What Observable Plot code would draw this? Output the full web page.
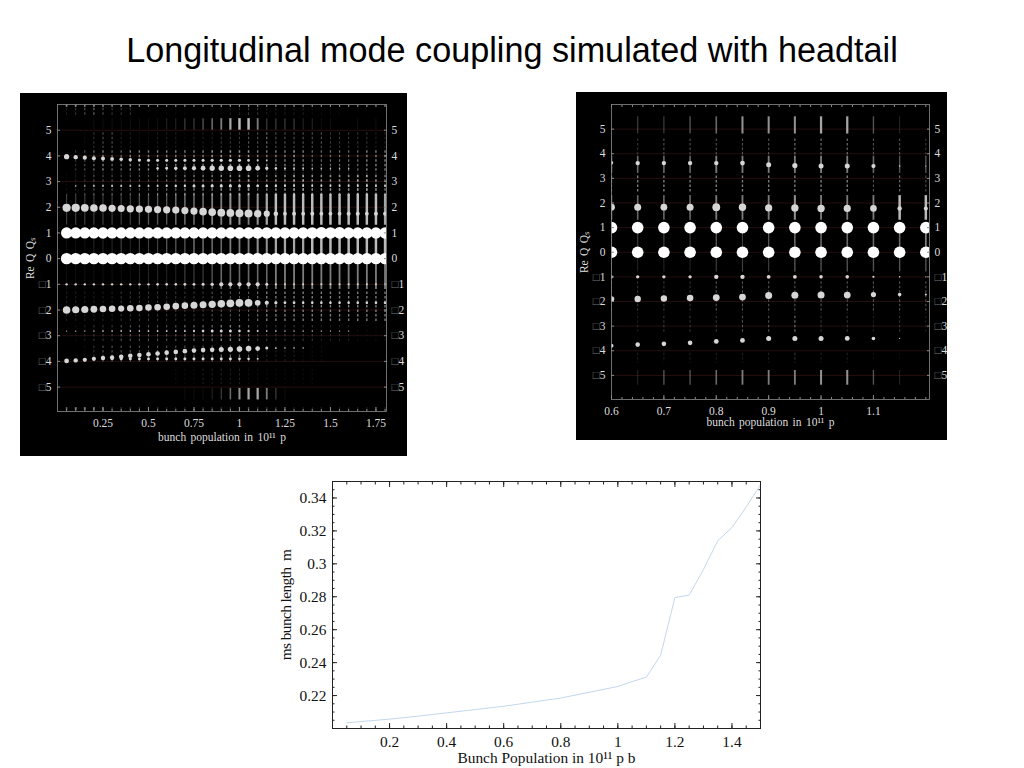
<!DOCTYPE html>
<html>
<head>
<meta charset="utf-8">
<script src="https://cdn.jsdelivr.net/npm/d3@7"></script>
<script src="https://cdn.jsdelivr.net/npm/@observablehq/plot@0.6"></script>
<style>
html,body{margin:0;padding:0;background:#fff;}
#page{position:relative;width:1024px;height:768px;overflow:hidden;}
#title{position:absolute;left:0;top:30px;width:1024px;text-align:center;font:34.2px/40px "Liberation Sans",sans-serif;color:#000;white-space:nowrap;}
</style>
</head>
<body>
<div id="page"><div id="title">Longitudinal mode coupling simulated with headtail</div></div>
<script>
// ---------- text ----------
const leftXLabel = "bunch population in 10¹¹ p";
const rightXLabel = "bunch population in 10¹¹ p";
const spectrumYLabel = "Re Q Qₛ";
const lengthXLabel = "Bunch Population in 10¹¹ p b";
const lengthYLabel = "ms bunch length  m";

// ---------- left spectrum ----------
const leftX = [0.05,0.1,0.15,0.2,0.25,0.3,0.35,0.4,0.45,0.5,0.55,0.6,0.65,0.7,0.75,0.8,0.85,0.9,0.95,1,1.05,1.1,1.15,1.2,1.25,1.3,1.35,1.4,1.45,1.5,1.55,1.6,1.65,1.7,1.75,1.8];
const leftXTicks = [0.25,0.5,0.75,1,1.25,1.5,1.75];
const modeTicks = [-5,-4,-3,-2,-1,0,1,2,3,4,5];

const leftMode0 = [5.7,5.7,5.7,5.7,5.7,5.7,5.7,5.7,5.7,5.7,5.7,5.7,5.7,5.7,5.7,5.7,5.7,5.7,5.7,5.7,5.7,5.7,5.7,5.7,5.7,5.7,5.7,5.7,5.7,5.7,5.7,5.7,5.7,5.7,5.7,5.7];
const leftMode1 = [5.6,5.6,5.6,5.6,5.7,5.6,5.6,5.6,5.6,5.6,5.6,5.6,5.6,5.6,5.6,5.6,5.6,5.6,5.6,5.7,5.7,5.7,5.7,5.7,5.7,5.7,5.7,5.8,5.9,5.8,5.9,5.7,5.7,5.7,5.7,5.7];
const leftMode2 = [4.1,4.1,3.9,3.8,3.8,3.6,3.5,3.6,3.6,3.6,3.6,3.6,3.6,3.6,3.6,3.8,3.8,3.9,3.9,4,4,3.7,3.1,2.3,1.9,2,1.9,2,1.9,1.9,1.9,2,2,1.9,2,2];
const leftMode2Y = [1.98,1.98,1.98,1.97,1.97,1.96,1.95,1.94,1.93,1.92,1.91,1.9,1.89,1.87,1.85,1.83,1.81,1.79,1.78,1.77,1.76,1.75,1.75,1.75,1.75,1.75,1.75,1.75,1.75,1.75,1.75,1.75,1.75,1.75,1.75,1.75];
const leftMode3 = [0,0.8,0.8,0.9,0.9,1,1,1,1,1,1,1.1,1.2,1.2,1.5,1.5,1.6,1.6,1.6,1.5,1.5,1.4,1.3,1.2,1.1,1,1,1,1,1,1,1,1,1,1,1];
const leftMode4a = [2.6,2.2,2.1,2,2,1.9,1.8,1.7,1.6,1.6,1.5,1.5,1.5,1.5,1.5,1.5,1.6,1.6,1.6,1.6,1.3,1,0.8,0,0,0,0,0,0,0,0,0,0,0,0,0];
const leftMode4aY = [3.97,3.95,3.93,3.91,3.9,3.88,3.87,3.85,3.84,3.83,3.83,3.83,3.83,3.83,3.83,3.83,3.83,3.83,3.83,3.83,3.83,3.83,3.83,3.83,3.83,3.83,3.83,3.83,3.83,3.83,3.83,3.83,3.83,3.83,3.83,3.83];
const leftMode4b = [0,0,0,0,0,0,0,0,0,0,1.2,1.4,1.7,1.9,2.1,2.4,2.6,2.7,2.8,2.8,2.8,2.4,1.6,1.2,1,0.9,0.9,0.8,0.8,0.7,0.7,0.7,0,0,0,0];
const leftModeM1 = [1.2,1.2,1.2,1.2,1.2,1.2,1.2,1.2,1.2,1.2,1.3,1.3,1.3,1.4,1.4,1.5,1.7,2.1,2.1,2.1,2.1,2.1,1.5,1.1,1,1,1,1,1,1,1,1,1,1,1,1];
const leftModeM2 = [3.8,3.6,3.6,3.4,3.3,3.3,3.1,3.3,3.3,3.3,3.3,3.3,3.3,3.3,3.5,3.5,3.7,3.8,3.9,3.9,3.9,2.9,2.1,1.6,1.4,1.4,1.3,1.3,1.3,1.3,1.3,1.3,1.3,1.3,1.3,1.3];
const leftModeM2Y = [-2,-1.99,-1.98,-1.97,-1.96,-1.95,-1.94,-1.93,-1.92,-1.9,-1.89,-1.87,-1.85,-1.83,-1.81,-1.79,-1.78,-1.76,-1.74,-1.72,-1.72,-1.72,-1.72,-1.72,-1.72,-1.72,-1.72,-1.72,-1.72,-1.72,-1.72,-1.72,-1.72,-1.72,-1.72,-1.72];
const leftModeM3 = [0.6,0.7,0.7,0.7,0.8,0.8,0.8,0.8,0.8,0.9,0.9,0.9,0.9,0.9,1.1,1.3,1.5,1.5,1.5,1.3,1.2,1,0.8,0.8,0.7,0.7,0.7,0.7,0.7,0.6,0.6,0.6,0,0,0,0];
const leftModeM4a = [2.4,2.2,2.1,2.1,2.2,2.2,2.3,2.3,2.3,2.3,2.3,2.3,2.3,2.3,2.3,2.3,2.3,2.5,2.6,2.8,2.8,2.4,1.5,0.9,0.8,0.8,0.7,0,0,0,0,0,0,0,0,0];
const leftModeM4aY = [-3.98,-3.96,-3.94,-3.9,-3.87,-3.85,-3.82,-3.78,-3.75,-3.72,-3.69,-3.66,-3.63,-3.6,-3.58,-3.56,-3.55,-3.54,-3.53,-3.52,-3.5,-3.5,-3.48,-3.48,-3.48,-3.48,-3.48,-3.48,-3.48,-3.48,-3.48,-3.48,-3.48,-3.48,-3.48,-3.48];
const leftModeM4b = [0,0,0,1.1,1.4,1.4,1.5,1.5,1.5,1.5,1.5,1.5,1.5,1.5,1.5,1.5,1.5,1.5,1.5,1.4,1.3,1,0,0,0,0,0,0,0,0,0,0,0,0,0,0];

const leftStreakTop = [0.6,0.6,0.5,0.6,0.5,0.4,0.5,0.5,0.4,0.4,0.3,0.3,0.3,0.3,0.3,0.3,0.3,0.4,0.4,0.4,0.4,0.3,0.3,0.3,0.3,0.3,0.3,0.3,0.3,0.3,0.3,0.3,0.3,0.3,0.3,0.3];
const leftStreak58 = [0.2,0.3,0.4,0.5,0.4,0.3,0.3,0.3,0,0,0,0.1,0.1,0.1,0,0,0.1,0.1,0.2,0.2,0.3,0.3,0.2,0.2,0.2,0.2,0.2,0.1,0.1,0.1,0.1,0,0,0,0,0];
const leftStreak52 = [0,0,0,0.1,0.1,0.1,0.1,0.1,0.1,0.1,0.1,0.2,0.2,0.3,0.3,0.4,0.5,0.6,0.8,0.9,0.9,0.6,0.3,0.3,0.3,0.3,0.2,0.2,0.1,0.1,0,0,0.1,0,0.1,0];
const leftStreak46 = [0,0,0.1,0.3,0.4,0.4,0.2,0.2,0.1,0.1,0.2,0.2,0.2,0.1,0.2,0.2,0.2,0.3,0.3,0.3,0.4,0.4,0.5,0.4,0.4,0.4,0.4,0.4,0.4,0.3,0.3,0.3,0.3,0.3,0.2,0.2];
const leftStreak37 = [0,0.3,0.4,0.5,0.6,0.5,0.5,0.6,0.6,0.6,0.6,0.6,0.6,0.6,0.6,0.6,0.7,0.7,0.7,0.7,0.7,0.6,0.6,0.6,0.6,0.7,0.6,0.5,0.5,0.5,0.5,0.5,0.5,0.6,0.6,0.6];
const leftStreak28 = [0.1,0.2,0.3,0.4,0.4,0.4,0.4,0.4,0.4,0.4,0.5,0.5,0.5,0.6,0.6,0.6,0.6,0.7,0.7,0.7,0.8,0.5,0.6,0.7,0.7,0.8,0.8,0.7,0.7,0.7,0.7,0.7,0.8,0.8,0.7,0.6];
const leftStreak19 = [0.3,0.3,0.3,0.3,0.3,0.3,0.3,0.3,0.4,0.4,0.4,0.4,0.5,0.5,0.5,0.5,0.6,0.6,0.7,0.7,0.6,0.7,0.8,0.9,0.9,0.9,0.9,0.9,0.9,0.9,0.9,0.9,0.9,0.9,0.9,0.8];
const leftStreak05 = [0.1,0.1,0.1,0.2,0.2,0.2,0.3,0.2,0.3,0.3,0.3,0.4,0.4,0.4,0.5,0.5,0.5,0.5,0.6,0.6,0.6,0.7,0.7,0.8,0.8,0.8,0.8,0.9,0.9,0.9,0.9,0.9,0.9,0.9,0.9,0.9];
const leftStreakM07 = [0.1,0.1,0.1,0.1,0.1,0.1,0.1,0.1,0.2,0.2,0.2,0.2,0.2,0.3,0.3,0.3,0.4,0.5,0.5,0.5,0.5,0.5,0.5,0.6,0.6,0.6,0.6,0.6,0.6,0.6,0.6,0.6,0.6,0.6,0.6,0.6];
const leftStreakM19 = [0.2,0.2,0.2,0.2,0.2,0.2,0.3,0.3,0.3,0.3,0.3,0.3,0.3,0.3,0.3,0.3,0.4,0.4,0.4,0.4,0.4,0.5,0.6,0.6,0.6,0.6,0.6,0.6,0.6,0.6,0.6,0.6,0.6,0.6,0.6,0.6];
const leftStreakM31 = [0,0.1,0.2,0.3,0.3,0.3,0.4,0.4,0.4,0.4,0.4,0.4,0.4,0.5,0.5,0.5,0.5,0.6,0.6,0.6,0.5,0.3,0.3,0.3,0.3,0.3,0.3,0.3,0.2,0.2,0.2,0.2,0.1,0.1,0.1,0.1];
const leftStreakM42 = [0,0,0.1,0.3,0.4,0.4,0.4,0.4,0.4,0.4,0.4,0.4,0.4,0.4,0.4,0.4,0.4,0.5,0.5,0.5,0.4,0.3,0.2,0.2,0.2,0.2,0.1,0.1,0.1,0,0,0,0,0,0,0];
const leftStreakM46 = [0,0,0,0,0,0,0,0,0,0,0,0,0.1,0.1,0.1,0.2,0.2,0.2,0.2,0.2,0.1,0.1,0.1,0.1,0.1,0.1,0.1,0.1,0,0,0,0,0,0,0,0];
const leftStreakM52 = [0,0,0,0,0,0,0,0,0,0,0,0,0,0.1,0.1,0.1,0.2,0.3,0.5,0.7,0.8,0.8,0.6,0.3,0.1,0,0,0,0,0,0,0,0,0,0,0];
const leftStreakBottom = [0.5,0.6,0.6,0.6,0.5,0.3,0.3,0.3,0.3,0.3,0.3,0.2,0.2,0.2,0.2,0.3,0.3,0.3,0.3,0.4,0.4,0.3,0.3,0.3,0.2,0.2,0.2,0.2,0.2,0.2,0.2,0.2,0.2,0.2,0.2,0.2];

// ---------- right spectrum ----------
const rightX = [0.6,0.65,0.7,0.75,0.8,0.85,0.9,0.95,1,1.05,1.1,1.15,1.2];
const rightXTicks = [0.6,0.7,0.8,0.9,1,1.1];
const rightMode0 = [5.8,5.8,5.8,5.8,5.8,5.8,5.8,5.8,5.8,5.8,5.8,5.8,5.8];
const rightMode1 = [5.8,5.8,5.8,5.8,5.8,5.8,5.8,5.8,5.8,5.8,5.8,5.8,5.8];
const rightMode2 = [3.4,3.5,3.4,3.5,3.9,3.7,3.6,3.7,3.7,3.6,3.3,2.2,2];
const rightMode2Y = [1.83,1.83,1.83,1.83,1.83,1.83,1.8,1.8,1.78,1.78,1.78,1.78,1.78];
const rightMode4 = [1.8,2.2,2.2,2.2,2.2,2.4,2.5,2.6,2.5,2.5,2.1,0.8,0.6];
const rightMode4Y = [3.63,3.62,3.62,3.62,3.62,3.62,3.55,3.52,3.5,3.5,3.5,3.5,3.5];
const rightModeM1 = [1.6,1.7,1.7,1.7,2.2,2.2,1.9,1.9,1.8,1.8,1.1,0.8,0.7];
const rightModeM2 = [2.8,3.2,3.2,3.3,3.4,3.4,3.5,3.5,3.5,3.4,2.6,1.8,1];
const rightModeM2Y = [-1.9,-1.9,-1.88,-1.86,-1.84,-1.82,-1.76,-1.75,-1.74,-1.74,-1.72,-1.72,-1.72];
const rightModeM4 = [2,2.3,2.3,2.3,2.4,2.4,2.5,2.5,2.5,2.4,1.8,0.6,0];
const rightModeM4Y = [-3.8,-3.75,-3.72,-3.68,-3.62,-3.58,-3.5,-3.5,-3.5,-3.5,-3.5,-3.5,-3.5];
const rightStreak51 = [0,0.3,0.3,0.4,0.5,0.7,0.7,0.7,0.8,0.8,0.4,0.2,0];
const rightStreak42 = [0.2,0.3,0.4,0.4,0.4,0.4,0.4,0.5,0.5,0.5,0.4,0.4,0.3];
const rightStreak35 = [0.5,0.5,0.5,0.5,0.6,0.6,0.6,0.6,0.6,0.6,0.5,0.4,0.4];
const rightStreak27 = [0.5,0.6,0.6,0.6,0.6,0.6,0.6,0.6,0.6,0.6,0.4,0.5,0.4];
const rightStreak18 = [0.5,0.5,0.5,0.5,0.6,0.6,0.6,0.7,0.6,0.6,0.6,0.9,0.9];
const rightStreak05 = [0.2,0.3,0.3,0.3,0.4,0.3,0.4,0.5,0.5,0.5,0.5,0.5,0.6];
const rightStreakM05 = [0.2,0.2,0.2,0.2,0.3,0.3,0.3,0.4,0.4,0.4,0.4,0.4,0.4];
const rightStreakM19 = [0.3,0.3,0.3,0.3,0.4,0.4,0.4,0.4,0.4,0.4,0.4,0.4,0.4];
const rightStreakM29 = [0.1,0.2,0.3,0.3,0.3,0.4,0.4,0.5,0.3,0.3,0.2,0.3,0.2];
const rightStreakM43 = [0.1,0.2,0.2,0.2,0.2,0.2,0.2,0.3,0.2,0.2,0.1,0.1,0];
const rightStreakM51 = [0,0.2,0.4,0.4,0.5,0.6,0.6,0.6,0.7,0.7,0.4,0.2,0];

// ---------- rms bunch length ----------
const lengthX = [0.05,0.1,0.2,0.3,0.4,0.5,0.6,0.7,0.8,0.9,1,1.05,1.1,1.15,1.2,1.25,1.3,1.35,1.4,1.45,1.5];
const lengthY = [0.2035,0.2042,0.2057,0.2075,0.2095,0.2115,0.2135,0.216,0.2185,0.222,0.2255,0.2285,0.2312,0.2445,0.2795,0.281,0.2965,0.314,0.322,0.3345,0.348];
const lengthXTicks = [0.2,0.4,0.6,0.8,1,1.2,1.4];
const lengthYTicks = [0.22,0.24,0.26,0.28,0.3,0.32,0.34];

// ---------- helpers ----------
const range = (a, b, s) => d3.range(Math.round((b - a) / s) + 1).map(i => +(a + i * s).toFixed(4));
const row = (xs, amp, y) => xs.map((x, i) => ({x, amp: amp[i], y: Array.isArray(y) ? y[i] : y}));
const band = (xs, level, y1, y2) => xs.map((x, i) => ({x, level: level[i], y1, y2})).filter(d => d.level > 0);
const spectrumLabel = d => d < 0 ? "□" + (-d) : String(d);

function spectrum(o) {
  const gray = "#8a8a8a";
  const svg = Plot.plot({
    width: o.width, height: o.height,
    marginLeft: o.ml, marginRight: o.mr, marginTop: o.mt, marginBottom: o.mb,
    x: {domain: o.xDomain},
    y: {domain: o.yDomain},
    r: {type: "linear", domain: [0, 6], range: [0, 6]},
    opacity: {type: "identity"},
    style: {position: "absolute", left: o.left + "px", top: o.top + "px", background: "#000", color: "#ddd", fontFamily: "'Liberation Serif'", fontSize: "11.5px", overflow: "hidden"},
    marks: [
      Plot.ruleY(modeTicks, {stroke: "#2e1212", strokeWidth: 0.8}),
      ...o.bands.map(b => Plot.ruleX(b, {x: "x", y1: "y1", y2: "y2", stroke: "#cfcfcf", strokeOpacity: "level", strokeWidth: d => 0.5 + d.level * 2.2, clip: true})),
      ...o.beads.map(b => Plot.ruleX(b, {x: "x", y1: "y1", y2: "y2", stroke: "#cfcfcf", strokeOpacity: "level", strokeWidth: d => 0.5 + d.level * 1.5, strokeDasharray: "2.5,2", clip: true})),
      ...o.greys.map(r => Plot.dot(r, {x: "x", y: "y", r: "amp", fill: "#d6d6d6", clip: true})),
      ...o.whites.map(r => Plot.dot(r, {x: "x", y: "y", r: "amp", fill: "#fff", clip: true})),
      Plot.frame({stroke: gray, strokeWidth: 0.8}),
      Plot.axisX(o.xMinor, {anchor: "bottom", tickSize: -2, stroke: gray, tickFormat: () => "", label: null}),
      Plot.axisX(o.xMinor, {anchor: "top", tickSize: -2, stroke: gray, tickFormat: () => "", label: null}),
      Plot.axisX(o.xTicks, {anchor: "bottom", tickSize: -4, tickPadding: 11, stroke: gray, label: o.xLabel, labelAnchor: "center", labelArrow: "none", labelOffset: o.labelOffset, tickFormat: d => String(d), fill: "#ddd"}),
      Plot.axisY(modeTicks, {anchor: "left", tickSize: -3, tickPadding: 9, stroke: gray, label: spectrumYLabel, labelAnchor: "center", labelArrow: "none", labelOffset: 32, tickFormat: spectrumLabel, fill: "#ddd"}),
      Plot.axisY(modeTicks, {anchor: "right", tickSize: -3, tickPadding: 8, stroke: gray, label: null, tickFormat: spectrumLabel, fill: "#ddd"})
    ]
  });
  // the missing-glyph box is dimmer than the digit beside it
  d3.select(svg).selectAll("text").each(function () {
    const t = this.textContent;
    if (t[0] === "□") {
      this.textContent = "";
      d3.select(this).append("tspan").attr("fill", "#777").text("□");
      d3.select(this).append("tspan").text(t.slice(1));
    }
  });
  svg.querySelectorAll("text").forEach(t => t.style.wordSpacing = "1.5px");
  return svg;
}

const page = document.getElementById("page");

page.appendChild(spectrum({
  left: 20, top: 93, width: 387, height: 363, ml: 37, mr: 21, mt: 11, mb: 45, labelOffset: 29,
  xDomain: [0, 1.808], yDomain: [-5.95, 6],
  xTicks: leftXTicks, xMinor: range(0.05, 1.8, 0.05), xLabel: leftXLabel,
  bands: [
    band(leftX, leftStreakTop, 5.98, 5.9), band(leftX, leftStreak52, 5.45, 5.0),
    band(leftX, leftStreak19, 2.5, 1.3), band(leftX, leftStreak05, 0.85, 0.15), band(leftX, leftStreakM07, -0.15, -1.2),
    band(leftX, leftStreakM52, -5.05, -5.5), band(leftX, leftStreakBottom, -5.8, -5.9)
  ],
  beads: [
    band(leftX, leftStreak58, 5.85, 5.5), band(leftX, leftStreak46, 4.9, 4.3), band(leftX, leftStreak37, 4.2, 3.3), band(leftX, leftStreak28, 3.25, 2.4),
    band(leftX, leftStreakM19, -1.3, -2.5), band(leftX, leftStreakM31, -2.6, -3.3), band(leftX, leftStreakM42, -3.4, -4.1),
    band(leftX, leftStreakM46, -4.3, -4.9)
  ],
  greys: [
    row(leftX, leftMode2, leftMode2Y), row(leftX, leftMode3, 2.83), row(leftX, leftMode4a, leftMode4aY), row(leftX, leftMode4b, 3.52),
    row(leftX, leftModeM1, -1), row(leftX, leftModeM2, leftModeM2Y), row(leftX, leftModeM3, -2.82),
    row(leftX, leftModeM4a, leftModeM4aY), row(leftX, leftModeM4b, -3.9)
  ],
  whites: [row(leftX, leftMode0, 0), row(leftX, leftMode1, 1)]
}));

page.appendChild(spectrum({
  left: 576, top: 92, width: 371, height: 348, ml: 35, mr: 18, mt: 12, mb: 41, labelOffset: 26,
  xDomain: [0.6, 1.207], yDomain: [-5.98, 6],
  xTicks: rightXTicks, xMinor: range(0.6, 1.2, 0.02), xLabel: rightXLabel,
  bands: [
    band(rightX, rightStreak51, 5.5, 4.8), band(rightX, rightStreak35, 3.9, 3.2),
    band(rightX, rightStreak18, 2.3, 1.3), band(rightX, rightStreak05, 0.8, 0.2),
    band(rightX, rightStreakM05, -0.2, -0.8), band(rightX, rightStreakM51, -4.8, -5.4)
  ],
  beads: [
    band(rightX, rightStreak42, 4.6, 3.9), band(rightX, rightStreak27, 3.1, 2.4),
    band(rightX, rightStreakM19, -1.2, -2.5), band(rightX, rightStreakM29, -2.6, -3.3),
    band(rightX, rightStreakM43, -4.1, -4.5)
  ],
  greys: [
    row(rightX, rightMode2, rightMode2Y), row(rightX, rightMode4, rightMode4Y), row(rightX, rightModeM1, -1),
    row(rightX, rightModeM2, rightModeM2Y), row(rightX, rightModeM4, rightModeM4Y)
  ],
  whites: [row(rightX, rightMode0, 0), row(rightX, rightMode1, 1)]
}));

const xMinorL = range(0.05, 1.5, 0.05);
const yMinorL = range(0.2, 0.35, 0.005);
const lengthPlot = Plot.plot({
  width: 500, height: 293, marginLeft: 62, marginRight: 10, marginTop: 6, marginBottom: 40,
  x: {domain: [0, 1.5]},
  y: {domain: [0.2, 0.35]},
  style: {position: "absolute", left: "270px", top: "475px", background: "#fff", color: "#111", fontFamily: "'Liberation Serif'", fontSize: "15.4px"},
  marks: [
    Plot.line(lengthX.map((x, i) => ({x, y: lengthY[i]})), {x: "x", y: "y", stroke: "#b2cde9", strokeWidth: 0.8}),
    Plot.frame({stroke: "#222", strokeWidth: 1}),
    Plot.axisX(xMinorL, {anchor: "bottom", tickSize: -2.5, stroke: "#222", tickFormat: () => "", label: null}),
    Plot.axisX(xMinorL, {anchor: "top", tickSize: -2.5, stroke: "#222", tickFormat: () => "", label: null}),
    Plot.axisX(lengthXTicks, {anchor: "top", tickSize: -5, stroke: "#222", tickFormat: () => "", label: null}),
    Plot.axisY(yMinorL, {anchor: "left", tickSize: -2.5, stroke: "#222", tickFormat: () => "", label: null}),
    Plot.axisY(yMinorL, {anchor: "right", tickSize: -2.5, stroke: "#222", tickFormat: () => "", label: null}),
    Plot.axisY(lengthYTicks, {anchor: "right", tickSize: -5, stroke: "#222", tickFormat: () => "", label: null}),
    Plot.axisX(lengthXTicks, {anchor: "bottom", tickSize: -5, tickPadding: 13, stroke: "#222", fill: "#111", label: lengthXLabel, labelAnchor: "center", labelArrow: "none", labelOffset: 34, tickFormat: d => String(d)}),
    Plot.axisY(lengthYTicks, {anchor: "left", tickSize: -5, tickPadding: 11, stroke: "#222", fill: "#111", label: lengthYLabel, labelAnchor: "center", labelArrow: "none", labelOffset: 52, tickFormat: d => String(d)})
  ]
});
lengthPlot.querySelectorAll("text").forEach(t => { if (t.textContent.startsWith("ms bunch")) t.style.letterSpacing = "-0.6px"; });
page.appendChild(lengthPlot);
</script>
</body>
</html>
